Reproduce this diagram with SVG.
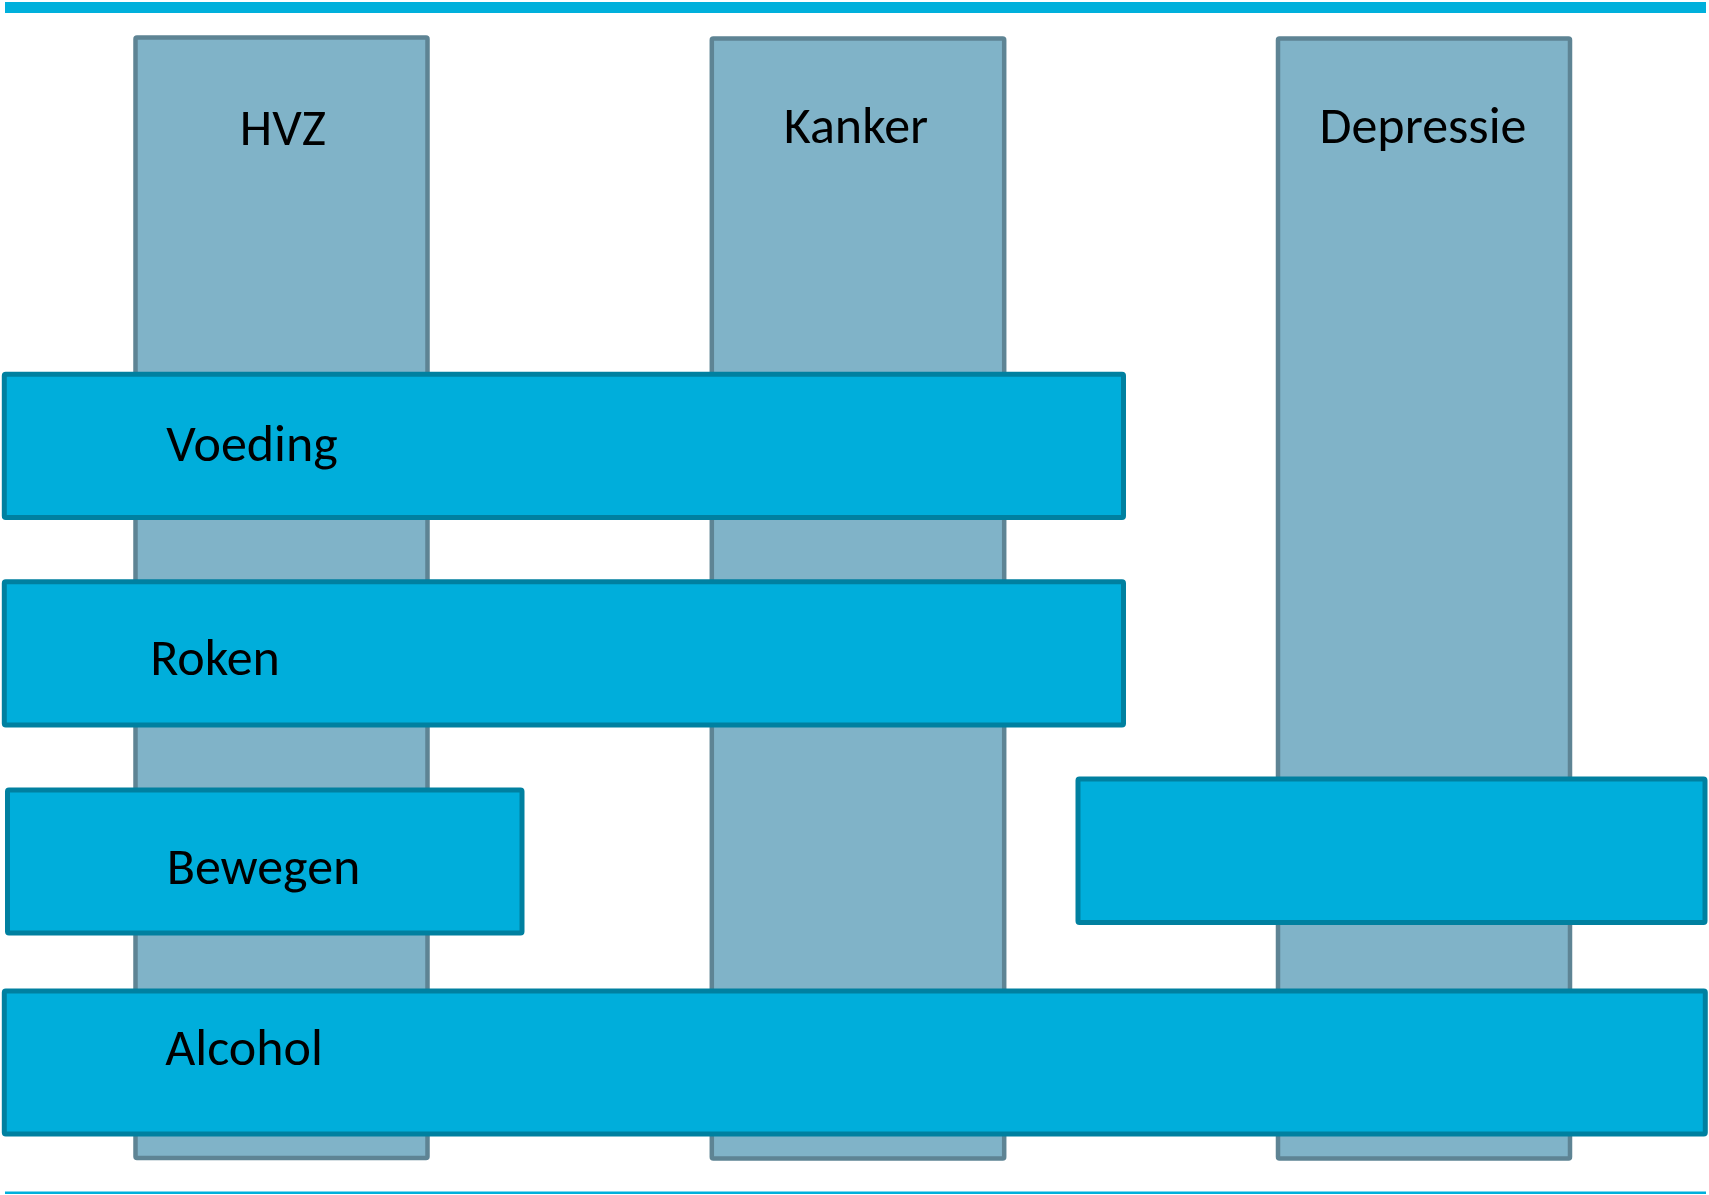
<svg xmlns="http://www.w3.org/2000/svg" width="1709" height="1195" viewBox="0 0 1709 1195">
<style>
.col{fill:#80B3C8;stroke:#5E8494;stroke-width:4.5}
.bar{fill:#00AEDB;stroke:#0080A0;stroke-width:5}
.line{fill:#00B0DC}
text{font-family:Carlito,Calibri,Lato,"Noto Sans",sans-serif;font-size:52px;fill:#000;text-anchor:middle}
</style>
<rect width="1709" height="1195" fill="#fff"/>
<rect class="line" x="5" y="2" width="1701" height="11"/>
<rect class="line" x="5" y="1191.5" width="1701" height="2.5"/>
<g id="col-hvz">
<rect class="col" x="135.5" y="37.5" width="292" height="1120.5" rx="1.5"/>
<text x="283" y="145">HVZ</text>
</g>
<g id="col-kanker">
<rect class="col" x="711.8" y="38.5" width="292.4" height="1120" rx="1.5"/>
<text x="856" y="143">Kanker</text>
</g>
<g id="col-depressie">
<rect class="col" x="1278" y="38.5" width="292" height="1120" rx="1.5"/>
<text x="1423" y="143">Depressie</text>
</g>
<g id="bar-voeding">
<rect class="bar" x="4.3" y="374.2" width="1119.2" height="143.3" rx="1.5"/>
<text x="252" y="461">Voeding</text>
</g>
<g id="bar-roken">
<rect class="bar" x="4.3" y="581.8" width="1119.2" height="143.3" rx="1.5"/>
<text x="215" y="674.5">Roken</text>
</g>
<g id="bar-bewegen">
<rect class="bar" x="7.5" y="790" width="514.5" height="143" rx="1.5"/>
<text x="263.5" y="884">Bewegen</text>
</g>
<g id="bar-depressie">
<rect class="bar" x="1078" y="779" width="627" height="143.5" rx="1.5"/>
</g>
<g id="bar-alcohol">
<rect class="bar" x="4.3" y="991" width="1701" height="143" rx="1.5"/>
<text x="244" y="1065">Alcohol</text>
</g>
<g id="connectors"/>
</svg>
